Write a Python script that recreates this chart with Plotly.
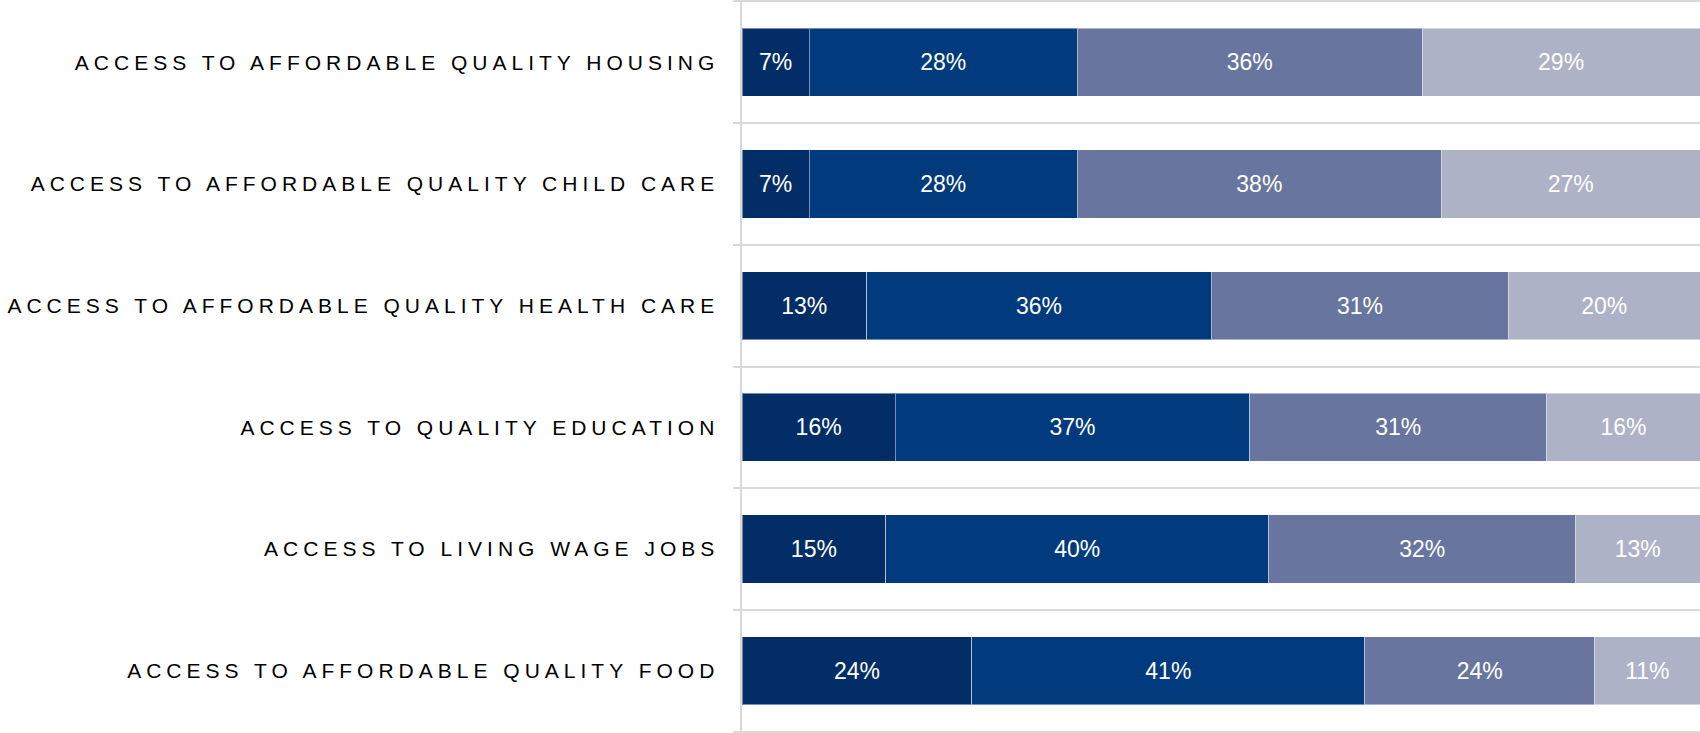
import plotly.graph_objects as go

categories = [
    "ACCESS TO AFFORDABLE QUALITY HOUSING",
    "ACCESS TO AFFORDABLE QUALITY CHILD CARE",
    "ACCESS TO AFFORDABLE QUALITY HEALTH CARE",
    "ACCESS TO QUALITY EDUCATION",
    "ACCESS TO LIVING WAGE JOBS",
    "ACCESS TO AFFORDABLE QUALITY FOOD",
]
series_names = ["Level 1", "Level 2", "Level 3", "Level 4"]
series1 = [7, 7, 13, 16, 15, 24]
series2 = [28, 28, 36, 37, 40, 41]
series3 = [36, 38, 31, 31, 32, 24]
series4 = [29, 27, 20, 16, 13, 11]
colors = ["#022D66", "#013A7D", "#68769F", "#ADB2C6"]

fig = go.Figure()
for name, vals, col in zip(series_names, [series1, series2, series3, series4], colors):
    fig.add_trace(go.Bar(
        y=categories, x=vals, name=name, orientation="h",
        marker=dict(color=col, line=dict(color="rgba(255,255,255,0.45)", width=1)),
        texttemplate="%{x}%", textposition="inside", insidetextanchor="middle",
        textfont=dict(family="Liberation Sans, Arial, sans-serif", size=23, color="white"),
        constraintext="none", cliponaxis=False, hoverinfo="skip",
    ))

ticktext = ['<span style="letter-spacing:5px">' + c + '</span>' for c in categories]
n = len(categories)

fig.update_layout(
    barmode="stack",
    bargap=0.44,
    width=1700, height=733,
    margin=dict(l=742, r=0, t=0, b=0),
    plot_bgcolor="white", paper_bgcolor="white",
    showlegend=False,
    font=dict(family="Liberation Sans, Arial, sans-serif"),
    xaxis=dict(range=[0, 100], showticklabels=False, showgrid=False, zeroline=False,
               showline=False, fixedrange=True),
    yaxis=dict(
        type="category",
        range=[n - 0.5 + 0.012, -0.5 - 0.012],
        tickmode="array", tickvals=categories, ticktext=ticktext,
        tickson="boundaries", ticks="outside", ticklen=7, tickwidth=2, tickcolor="#D9D9D9",
        showgrid=True, gridcolor="#D9D9D9", gridwidth=2,
        showline=True, linecolor="#D9D9D9", linewidth=2.5,
        tickfont=dict(family="Liberation Sans, Arial, sans-serif", size=21, color="#000000"),
        ticklabelstandoff=16,
        automargin=False, fixedrange=True,
    ),
)

fig.write_html(
    "out.html",
    config={"displayModeBar": False, "staticPlot": True},
    post_script="document.body.style.margin='0';document.body.style.overflow='hidden';",
)
